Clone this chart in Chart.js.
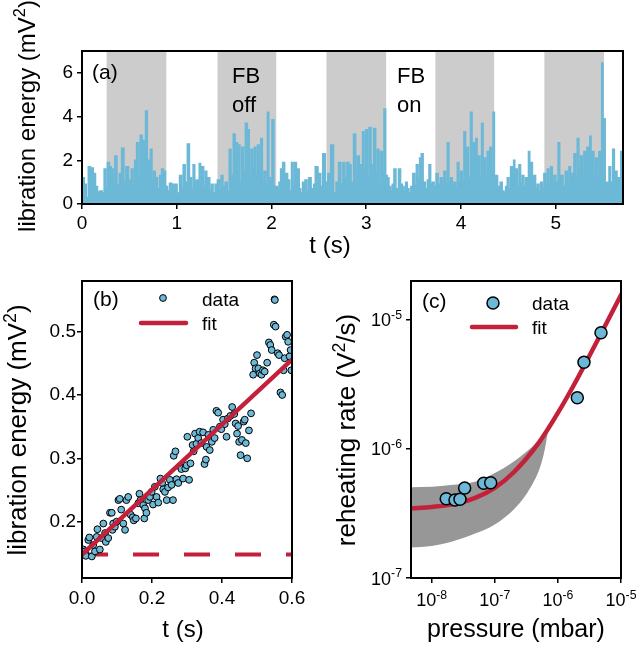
<!DOCTYPE html>
<html>
<head>
<meta charset="utf-8">
<script src="https://cdn.jsdelivr.net/npm/chart.js@4.4.1/dist/chart.umd.min.js"></script>
<style>
  html, body { margin: 0; padding: 0; background: #fff; }
  #wrap { position: relative; width: 639px; height: 648px; }
  #wrap canvas { position: absolute; left: 0; top: 0; }
</style>
</head>
<body>
<div id="wrap">
  <canvas id="chartA" width="639" height="648"></canvas>
  <canvas id="chartB" width="639" height="648"></canvas>
  <canvas id="chartC" width="639" height="648"></canvas>
</div>
<script>
// (a) libration energy trace, t in s, energy in mV^2
const traceT = [0, 0.014, 0.035, 0.056, 0.077, 0.105, 0.132, 0.153, 0.174, 0.202, 0.223, 0.244, 0.258, 0.279, 0.300, 0.321, 0.338, 0.355, 0.383, 0.404,
  0.432, 0.453, 0.474, 0.509, 0.530, 0.547, 0.564, 0.589, 0.606, 0.624, 0.648, 0.662, 0.679, 0.700, 0.714, 0.728, 0.749, 0.763, 0.784, 0.808,
  0.829, 0.850, 0.871, 0.892, 0.913, 0.934, 0.962, 0.990, 1.017, 1.042, 1.059, 1.077, 1.101, 1.122, 1.146, 1.164, 1.181, 1.199, 1.216, 1.230,
  1.244, 1.261, 1.275, 1.293, 1.310, 1.324, 1.338, 1.359, 1.373, 1.394, 1.415, 1.443, 1.460, 1.477, 1.498, 1.523, 1.544, 1.564, 1.582, 1.610,
  1.624, 1.638, 1.648, 1.659, 1.676, 1.697, 1.714, 1.735, 1.756, 1.774, 1.791, 1.808, 1.826, 1.843, 1.861, 1.878, 1.895, 1.913, 1.930, 1.948,
  1.965, 1.979, 1.993, 2.017, 2.035, 2.052, 2.070, 2.087, 2.105, 2.132, 2.146, 2.160, 2.181, 2.202, 2.220, 2.237, 2.254, 2.272, 2.286, 2.300,
  2.314, 2.341, 2.366, 2.383, 2.401, 2.436, 2.453, 2.470, 2.511, 2.528, 2.553, 2.581, 2.609, 2.641, 2.669, 2.693, 2.722, 2.743, 2.764, 2.785,
  2.806, 2.827, 2.852, 2.880, 2.897, 2.915, 2.940, 2.954, 2.968, 2.985, 3.003, 3.021, 3.038, 3.063, 3.091, 3.108, 3.126, 3.143, 3.161, 3.178,
  3.196, 3.214, 3.231, 3.249, 3.266, 3.284, 3.301, 3.326, 3.354, 3.371, 3.390, 3.407, 3.425, 3.442, 3.460, 3.481, 3.502, 3.520, 3.537, 3.555,
  3.572, 3.590, 3.611, 3.636, 3.653, 3.671, 3.689, 3.706, 3.727, 3.748, 3.769, 3.794, 3.811, 3.829, 3.847, 3.864, 3.882, 3.900, 3.917, 3.935,
  3.952, 3.970, 3.987, 4.005, 4.022, 4.040, 4.058, 4.068, 4.089, 4.110, 4.124, 4.135, 4.149, 4.163, 4.177, 4.191, 4.209, 4.226, 4.240, 4.251,
  4.269, 4.286, 4.300, 4.311, 4.329, 4.346, 4.360, 4.374, 4.399, 4.427, 4.444, 4.462, 4.480, 4.497, 4.515, 4.532, 4.550, 4.561, 4.575, 4.585,
  4.603, 4.620, 4.638, 4.655, 4.673, 4.691, 4.705, 4.719, 4.733, 4.747, 4.761, 4.779, 4.796, 4.814, 4.831, 4.849, 4.866, 4.884, 4.901, 4.919,
  4.937, 4.954, 4.972, 4.989, 5.014, 5.035, 5.049, 5.067, 5.088, 5.113, 5.130, 5.148, 5.165, 5.183, 5.201, 5.218, 5.236, 5.253, 5.271, 5.288,
  5.306, 5.324, 5.334, 5.352, 5.366, 5.380, 5.394, 5.412, 5.429, 5.447, 5.464, 5.478, 5.492, 5.506, 5.517, 5.527, 5.541, 5.555, 5.569, 5.590,
  5.612, 5.626, 5.640, 5.654, 5.665, 5.679, 5.693, 5.710];
const traceE = [1.2, 1.2, 0.9, 0.3, 1.7, 1.65, 1.4, 0.8, 0.55, 0.6, 0.5, 1.6, 0.7, 1.9, 1.7, 1.6, 0.8, 2.2, 0.9, 1.4,
  2.55, 1.0, 1.7, 1.1, 1.6, 0.8, 2.0, 2.8, 1.2, 3.15, 2.9, 1.0, 4.25, 2.0, 1.0, 2.5, 1.1, 1.5, 1.2, 0.7,
  1.3, 1.6, 1.5, 0.8, 0.6, 0.95, 0.9, 0.9, 0.5, 1.3, 0.7, 1.8, 1.0, 2.75, 1.2, 0.7, 1.8, 1.0, 1.1, 0.6,
  1.85, 1.0, 1.7, 0.8, 1.5, 0.7, 1.2, 0.6, 0.9, 0.5, 0.9, 1.1, 0.6, 1.3, 0.8, 1.0, 0.6, 2.5, 1.3, 3.2,
  1.8, 2.8, 1.2, 2.7, 1.0, 2.6, 1.5, 3.7, 3.4, 1.2, 2.5, 1.6, 2.6, 1.3, 2.7, 1.8, 3.0, 1.0, 1.5, 0.9,
  4.2, 1.0, 1.2, 3.85, 0.8, 0.8, 0.7, 1.0, 1.6, 1.9, 0.9, 1.4, 1.1, 0.6, 1.9, 0.8, 1.9, 1.2, 1.6, 0.7,
  0.5, 1.0, 1.1, 0.6, 1.2, 0.7, 0.9, 1.7, 1.4, 0.8, 2.3, 1.0, 1.4, 2.7, 0.5, 1.0, 1.9, 0.9, 1.9, 1.2,
  1.9, 1.8, 1.0, 3.2, 1.4, 2.2, 1.8, 1.1, 3.3, 1.5, 3.4, 1.2, 3.5, 1.8, 3.45, 1.4, 2.5, 1.0, 2.4, 1.5,
  4.35, 1.3, 1.2, 0.8, 0.6, 0.9, 1.6, 0.7, 1.6, 0.9, 0.8, 0.6, 1.0, 0.7, 0.5, 0.8, 1.4, 0.9, 1.8, 1.2,
  2.1, 2.3, 1.0, 0.7, 1.1, 1.8, 0.9, 1.0, 0.8, 1.4, 0.9, 1.2, 0.8, 1.5, 0.9, 2.8, 1.0, 1.2, 0.8, 1.0,
  0.7, 1.9, 1.0, 1.5, 1.0, 3.3, 1.4, 2.6, 1.2, 4.2, 1.6, 2.8, 1.3, 3.0, 1.4, 2.2, 1.2, 3.7, 1.0, 2.1,
  1.3, 2.4, 1.6, 2.6, 1.5, 4.2, 1.2, 1.3, 0.8, 1.0, 0.6, 0.5, 0.8, 1.2, 0.7, 1.7, 0.9, 2.0, 1.0, 1.6,
  0.8, 1.8, 0.9, 1.3, 0.8, 1.2, 0.7, 2.4, 1.1, 1.9, 0.9, 1.3, 0.7, 0.9, 0.6, 1.0, 0.7, 1.4, 0.8, 1.6,
  1.0, 1.7, 0.8, 1.3, 1.0, 2.8, 1.1, 1.3, 0.8, 1.5, 1.0, 1.7, 1.2, 1.4, 2.3, 1.2, 3.0, 1.5, 2.2, 1.3,
  2.4, 1.6, 2.6, 1.3, 3.1, 1.5, 2.4, 1.4, 2.1, 1.2, 2.4, 1.0, 6.45, 2.0, 3.9, 1.0, 0.4, 1.0, 1.7, 1.0,
  2.5, 1.2, 1.5, 0.8, 1.2, 1.0, 2.4, 1.0];
// feedback-off windows (gray)
const offStart = [0.26, 1.43, 2.58, 3.73, 4.88];
const offEnd = [0.89, 2.05, 3.21, 4.35, 5.51];

// (b) heating after switching feedback off
const heatT = [0.004, 0.009, 0.011, 0.018, 0.021, 0.028, 0.032, 0.037, 0.042, 0.044, 0.051, 0.056, 0.061, 0.066, 0.068, 0.075, 0.080, 0.085, 0.087, 0.089,
  0.094, 0.099, 0.104, 0.108, 0.112, 0.118, 0.123, 0.127, 0.132, 0.139, 0.145, 0.148, 0.154, 0.161, 0.164, 0.167, 0.175, 0.178, 0.180, 0.184,
  0.189, 0.194, 0.199, 0.203, 0.208, 0.213, 0.218, 0.224, 0.229, 0.232, 0.237, 0.242, 0.246, 0.251, 0.256, 0.260, 0.262, 0.267, 0.270, 0.275,
  0.280, 0.284, 0.289, 0.295, 0.299, 0.301, 0.306, 0.310, 0.316, 0.319, 0.323, 0.327, 0.332, 0.336, 0.341, 0.346, 0.350, 0.354, 0.356, 0.361,
  0.365, 0.371, 0.375, 0.379, 0.384, 0.389, 0.394, 0.398, 0.403, 0.408, 0.413, 0.417, 0.424, 0.429, 0.435, 0.439, 0.443, 0.446, 0.449, 0.453,
  0.457, 0.462, 0.465, 0.468, 0.472, 0.477, 0.483, 0.489, 0.492, 0.496, 0.500, 0.504, 0.508, 0.513, 0.517, 0.522, 0.529, 0.534, 0.538, 0.542,
  0.548, 0.550, 0.551, 0.553, 0.559, 0.563, 0.567, 0.572, 0.576, 0.579, 0.582, 0.586, 0.589, 0.593, 0.596, 0.598];
const heatE = [0.156, 0.153, 0.146, 0.171, 0.175, 0.145, 0.163, 0.153, 0.176, 0.188, 0.156, 0.174, 0.197, 0.182, 0.168, 0.174, 0.214, 0.214, 0.187, 0.197,
  0.192, 0.200, 0.234, 0.236, 0.219, 0.197, 0.187, 0.234, 0.239, 0.211, 0.207, 0.202, 0.205, 0.229, 0.244, 0.234, 0.226, 0.205, 0.221, 0.214,
  0.234, 0.239, 0.247, 0.227, 0.255, 0.239, 0.230, 0.268, 0.261, 0.251, 0.247, 0.234, 0.254, 0.266, 0.258, 0.234, 0.304, 0.311, 0.267, 0.261,
  0.287, 0.283, 0.268, 0.284, 0.289, 0.334, 0.266, 0.292, 0.321, 0.311, 0.339, 0.323, 0.332, 0.342, 0.324, 0.341, 0.291, 0.298, 0.318, 0.337,
  0.313, 0.326, 0.345, 0.332, 0.375, 0.372, 0.350, 0.346, 0.361, 0.354, 0.334, 0.363, 0.367, 0.381, 0.370, 0.355, 0.339, 0.351, 0.326, 0.305,
  0.329, 0.358, 0.361, 0.324, 0.300, 0.344, 0.371, 0.432, 0.451, 0.442, 0.463, 0.442, 0.434, 0.432, 0.439, 0.437, 0.451, 0.483, 0.479, 0.471,
  0.511, 0.551, 0.550, 0.508, 0.466, 0.463, 0.404, 0.400, 0.439, 0.458, 0.492, 0.495, 0.484, 0.461, 0.471, 0.439];
const fitT = [0, 0.6];
const fitE = [0.148, 0.456];
const baseE = [0.148, 0.148];

// (c) reheating rate vs pressure
const pressure = [1.70e-8, 2.34e-8, 2.81e-8, 3.33e-8, 6.67e-8, 8.61e-8, 2.03e-6, 2.59e-6, 4.82e-6];
const rate = [4.11e-7, 4.02e-7, 4.07e-7, 4.98e-7, 5.42e-7, 5.47e-7, 2.49e-6, 4.69e-6, 7.94e-6];
const fitP = [4.7e-9, 1e-8, 2e-8, 5e-8, 1e-7, 2e-7, 5e-7, 1e-6, 2e-6, 5e-6, 1e-5];
const fitR = [3.45e-7, 3.55e-7, 3.7e-7, 4.2e-7, 5.0e-7, 6.6e-7, 1.12e-6, 1.9e-6, 3.45e-6, 8.1e-6, 1.56e-5];
const bandP = [4.7e-9, 1e-8, 2e-8, 5e-8, 1e-7, 2e-7, 3e-7, 4e-7, 5e-7, 6e-7, 7e-7];
const bandHi = [5.05e-7, 5.1e-7, 5.25e-7, 5.6e-7, 6.5e-7, 8.0e-7, 9.3e-7, 1.05e-6, 1.17e-6, 1.28e-6, 1.4e-6];
const bandLo = [1.72e-7, 1.77e-7, 1.9e-7, 2.22e-7, 2.6e-7, 3.4e-7, 4.3e-7, 5.4e-7, 6.8e-7, 9.2e-7, 1.38e-6];
const pTicks = [1e-8, 1e-7, 1e-6, 1e-5];
const rTicks = [1e-7, 1e-6, 1e-5];

const FONT = "'Liberation Sans', Arial, sans-serif";
const BLUE = '#6cb8d7';
const RED = '#c3203a';

function pts(xs, ys) {
  return xs.map((x, i) => ({ x: x, y: ys[i] }));
}

// text with superscripts; y is the baseline
function richText(ctx, parts, x, y, size, align, vertical) {
  ctx.save();
  ctx.translate(x, y);
  if (vertical) ctx.rotate(-Math.PI / 2);
  ctx.fillStyle = '#000';
  ctx.textBaseline = 'alphabetic';
  ctx.textAlign = 'left';
  let w = 0;
  const sizes = parts.map(p => p.sup ? size * 0.68 : size);
  const widths = parts.map((p, i) => {
    ctx.font = sizes[i] + 'px ' + FONT;
    return ctx.measureText(p.t).width;
  });
  widths.forEach(v => w += v);
  let cx = align === 'center' ? -w / 2 : (align === 'right' ? -w : 0);
  parts.forEach((p, i) => {
    ctx.font = sizes[i] + 'px ' + FONT;
    ctx.fillText(p.t, cx, p.sup ? -size * 0.4 : 0);
    cx += widths[i];
  });
  ctx.restore();
}

function fixBox(w, h) {
  return function (scale) {
    if (w !== null) scale.width = w;
    if (h !== null) scale.height = h;
    scale.paddingTop = 0; scale.paddingBottom = 0;
    scale.paddingLeft = 0; scale.paddingRight = 0;
  };
}

function frameBox(chart) {
  const a = chart.chartArea, ctx = chart.ctx;
  ctx.save();
  ctx.strokeStyle = '#000';
  ctx.lineWidth = 2;
  ctx.strokeRect(a.left, a.top, a.right - a.left, a.bottom - a.top);
  ctx.restore();
}

function axisOpts(extra) {
  return Object.assign({
    grid: { drawOnChartArea: false, drawTicks: true, tickLength: 5, color: '#000', lineWidth: 1.5 },
    border: { display: true, color: '#000', width: 2 },
  }, extra);
}

const tickFont = { family: FONT, size: 19 };

// ---------- panel (a)
new Chart(document.getElementById('chartA'), {
  type: 'scatter',
  data: {
    datasets: [{
      data: pts(traceT, traceE),
      showLine: true,
      stepped: 'middle',
      borderColor: BLUE,
      backgroundColor: BLUE,
      borderWidth: 1.5,
      pointRadius: 0,
      fill: 'origin',
    }]
  },
  options: {
    responsive: false,
    animation: false,
    layout: { padding: { left: 0, top: 51, right: 16, bottom: 0 } },
    plugins: { legend: { display: false }, tooltip: { enabled: false } },
    scales: {
      x: axisOpts({
        type: 'linear', min: 0, max: 5.71,
        ticks: { stepSize: 1, color: '#000', font: tickFont, padding: 3, maxRotation: 0, includeBounds: false },
        afterFit: fixBox(null, 444),
      }),
      y: axisOpts({
        type: 'linear', min: 0, max: 7,
        ticks: { stepSize: 2, color: '#000', font: tickFont, padding: 4, includeBounds: false },
        afterFit: fixBox(82, null),
      }),
    },
  },
  plugins: [{
    id: 'panelA',
    beforeDatasetsDraw(chart) {
      const ctx = chart.ctx, x = chart.scales.x, a = chart.chartArea;
      ctx.save();
      ctx.fillStyle = '#cccccc';
      offStart.forEach((s, i) => {
        const x0 = x.getPixelForValue(s), x1 = x.getPixelForValue(offEnd[i]);
        ctx.fillRect(x0, a.top, x1 - x0, a.bottom - a.top);
      });
      ctx.restore();
    },
    afterDraw(chart) {
      frameBox(chart);
      const ctx = chart.ctx;
      richText(ctx, [{ t: '(a)' }], 92, 79, 21, 'left');
      richText(ctx, [{ t: 'FB' }], 232, 83, 22, 'left');
      richText(ctx, [{ t: 'off' }], 232, 112, 22, 'left');
      richText(ctx, [{ t: 'FB' }], 397, 83, 22, 'left');
      richText(ctx, [{ t: 'on' }], 397, 112, 22, 'left');
      richText(ctx, [{ t: 't (s)' }], 330, 253, 24, 'center');
      richText(ctx, [{ t: 'libration energy (mV' }, { t: '2', sup: true }, { t: ')' }], 35, 116, 24, 'center', true);
    }
  }]
});

// ---------- panel (b)
new Chart(document.getElementById('chartB'), {
  type: 'scatter',
  data: {
    datasets: [{
      label: 'fit',
      data: pts(fitT, fitE),
      showLine: true,
      borderColor: RED,
      borderWidth: 4.5,
      borderCapStyle: 'round',
      pointRadius: 0,
      order: 0,
    }, {
      label: 'data',
      data: pts(heatT, heatE),
      backgroundColor: BLUE,
      borderColor: '#000',
      borderWidth: 1,
      pointRadius: 3.4,
      order: 1,
    }, {
      label: 'base',
      data: pts(fitT, baseE),
      showLine: true,
      borderColor: RED,
      borderWidth: 4,
      borderDash: [26, 25],
      pointRadius: 0,
      order: 2,
    }]
  },
  options: {
    responsive: false,
    animation: false,
    layout: { padding: { left: 0, top: 281, right: 347, bottom: 0 } },
    plugins: { legend: { display: false }, tooltip: { enabled: false } },
    scales: {
      x: axisOpts({
        type: 'linear', min: 0, max: 0.6,
        ticks: { stepSize: 0.2, color: '#000', font: tickFont, padding: 4, maxRotation: 0, callback: v => v.toFixed(1) },
        afterFit: fixBox(null, 70),
      }),
      y: axisOpts({
        type: 'linear', min: 0.111, max: 0.58,
        ticks: { stepSize: 0.1, color: '#000', font: tickFont, padding: 1, includeBounds: false, callback: v => v.toFixed(1) },
        afterFit: fixBox(82, null),
      }),
    },
  },
  plugins: [{
    id: 'panelB',
    afterDraw(chart) {
      frameBox(chart);
      const ctx = chart.ctx;
      richText(ctx, [{ t: '(b)' }], 93, 306, 21, 'left');
      ctx.save();
      ctx.beginPath();
      ctx.arc(163, 298, 3.4, 0, Math.PI * 2);
      ctx.fillStyle = BLUE; ctx.fill();
      ctx.lineWidth = 1; ctx.strokeStyle = '#000'; ctx.stroke();
      ctx.beginPath();
      ctx.moveTo(141, 323); ctx.lineTo(186, 323);
      ctx.lineWidth = 4.5; ctx.lineCap = 'round'; ctx.strokeStyle = RED; ctx.stroke();
      ctx.restore();
      richText(ctx, [{ t: 'data' }], 202, 306, 19, 'left');
      richText(ctx, [{ t: 'fit' }], 202, 330, 19, 'left');
      richText(ctx, [{ t: 't (s)' }], 183, 637, 24, 'center');
      richText(ctx, [{ t: 'libration energy (mV' }, { t: '2', sup: true }, { t: ')' }], 26, 430, 26, 'center', true);
    }
  }]
});

// ---------- panel (c)
function decades(vals) {
  return function (scale) { scale.ticks = vals.map(v => ({ value: v })); };
}

new Chart(document.getElementById('chartC'), {
  type: 'scatter',
  data: {
    datasets: [{
      label: 'data',
      data: pts(pressure, rate),
      backgroundColor: BLUE,
      borderColor: '#000',
      borderWidth: 1.5,
      pointRadius: 6,
      order: 0,
    }, {
      label: 'fit',
      data: pts(fitP, fitR),
      showLine: true,
      cubicInterpolationMode: 'monotone',
      borderColor: RED,
      borderWidth: 4.5,
      borderCapStyle: 'round',
      pointRadius: 0,
      order: 1,
    }, {
      label: 'upper',
      data: pts(bandP, bandHi),
      showLine: true,
      cubicInterpolationMode: 'monotone',
      borderWidth: 0,
      borderColor: 'rgba(0,0,0,0)',
      backgroundColor: '#979797',
      pointRadius: 0,
      fill: '+1',
      order: 2,
    }, {
      label: 'lower',
      data: pts(bandP, bandLo),
      showLine: true,
      cubicInterpolationMode: 'monotone',
      borderWidth: 0,
      borderColor: 'rgba(0,0,0,0)',
      pointRadius: 0,
      order: 3,
    }]
  },
  options: {
    responsive: false,
    animation: false,
    layout: { padding: { left: 320, top: 281, right: 18, bottom: 0 } },
    plugins: { legend: { display: false }, tooltip: { enabled: false } },
    scales: {
      x: axisOpts({
        type: 'logarithmic', min: 4.7e-9, max: 1e-5,
        ticks: { color: '#000', font: tickFont, callback: () => '' },
        afterBuildTicks: decades(pTicks),
        afterFit: fixBox(null, 70),
      }),
      y: axisOpts({
        type: 'logarithmic', min: 1e-7, max: 2e-5,
        ticks: { color: '#000', font: tickFont, callback: () => '' },
        afterBuildTicks: decades(rTicks),
        afterFit: fixBox(91, null),
      }),
    },
  },
  plugins: [{
    id: 'panelC',
    afterDraw(chart) {
      frameBox(chart);
      const ctx = chart.ctx, xs = chart.scales.x, ys = chart.scales.y;
      pTicks.forEach(v => {
        const e = Math.round(Math.log10(v));
        richText(ctx, [{ t: '10' }, { t: String(e), sup: true }], xs.getPixelForValue(v), 606, 18, 'center');
      });
      rTicks.forEach(v => {
        const e = Math.round(Math.log10(v));
        richText(ctx, [{ t: '10' }, { t: String(e), sup: true }], 402, ys.getPixelForValue(v) + 6.5, 18, 'right');
      });
      richText(ctx, [{ t: '(c)' }], 422, 308, 21, 'left');
      ctx.save();
      ctx.beginPath();
      ctx.arc(493, 303, 6, 0, Math.PI * 2);
      ctx.fillStyle = BLUE; ctx.fill();
      ctx.lineWidth = 1.5; ctx.strokeStyle = '#000'; ctx.stroke();
      ctx.beginPath();
      ctx.moveTo(472, 327); ctx.lineTo(516, 327);
      ctx.lineWidth = 4.5; ctx.lineCap = 'round'; ctx.strokeStyle = RED; ctx.stroke();
      ctx.restore();
      richText(ctx, [{ t: 'data' }], 532, 310, 19, 'left');
      richText(ctx, [{ t: 'fit' }], 532, 334, 19, 'left');
      richText(ctx, [{ t: 'pressure (mbar)' }], 516, 637, 25, 'center');
      richText(ctx, [{ t: 'reheating rate (V' }, { t: '2', sup: true }, { t: '/s)' }], 355, 430, 26, 'center', true);
    }
  }]
});
</script>
</body>
</html>
